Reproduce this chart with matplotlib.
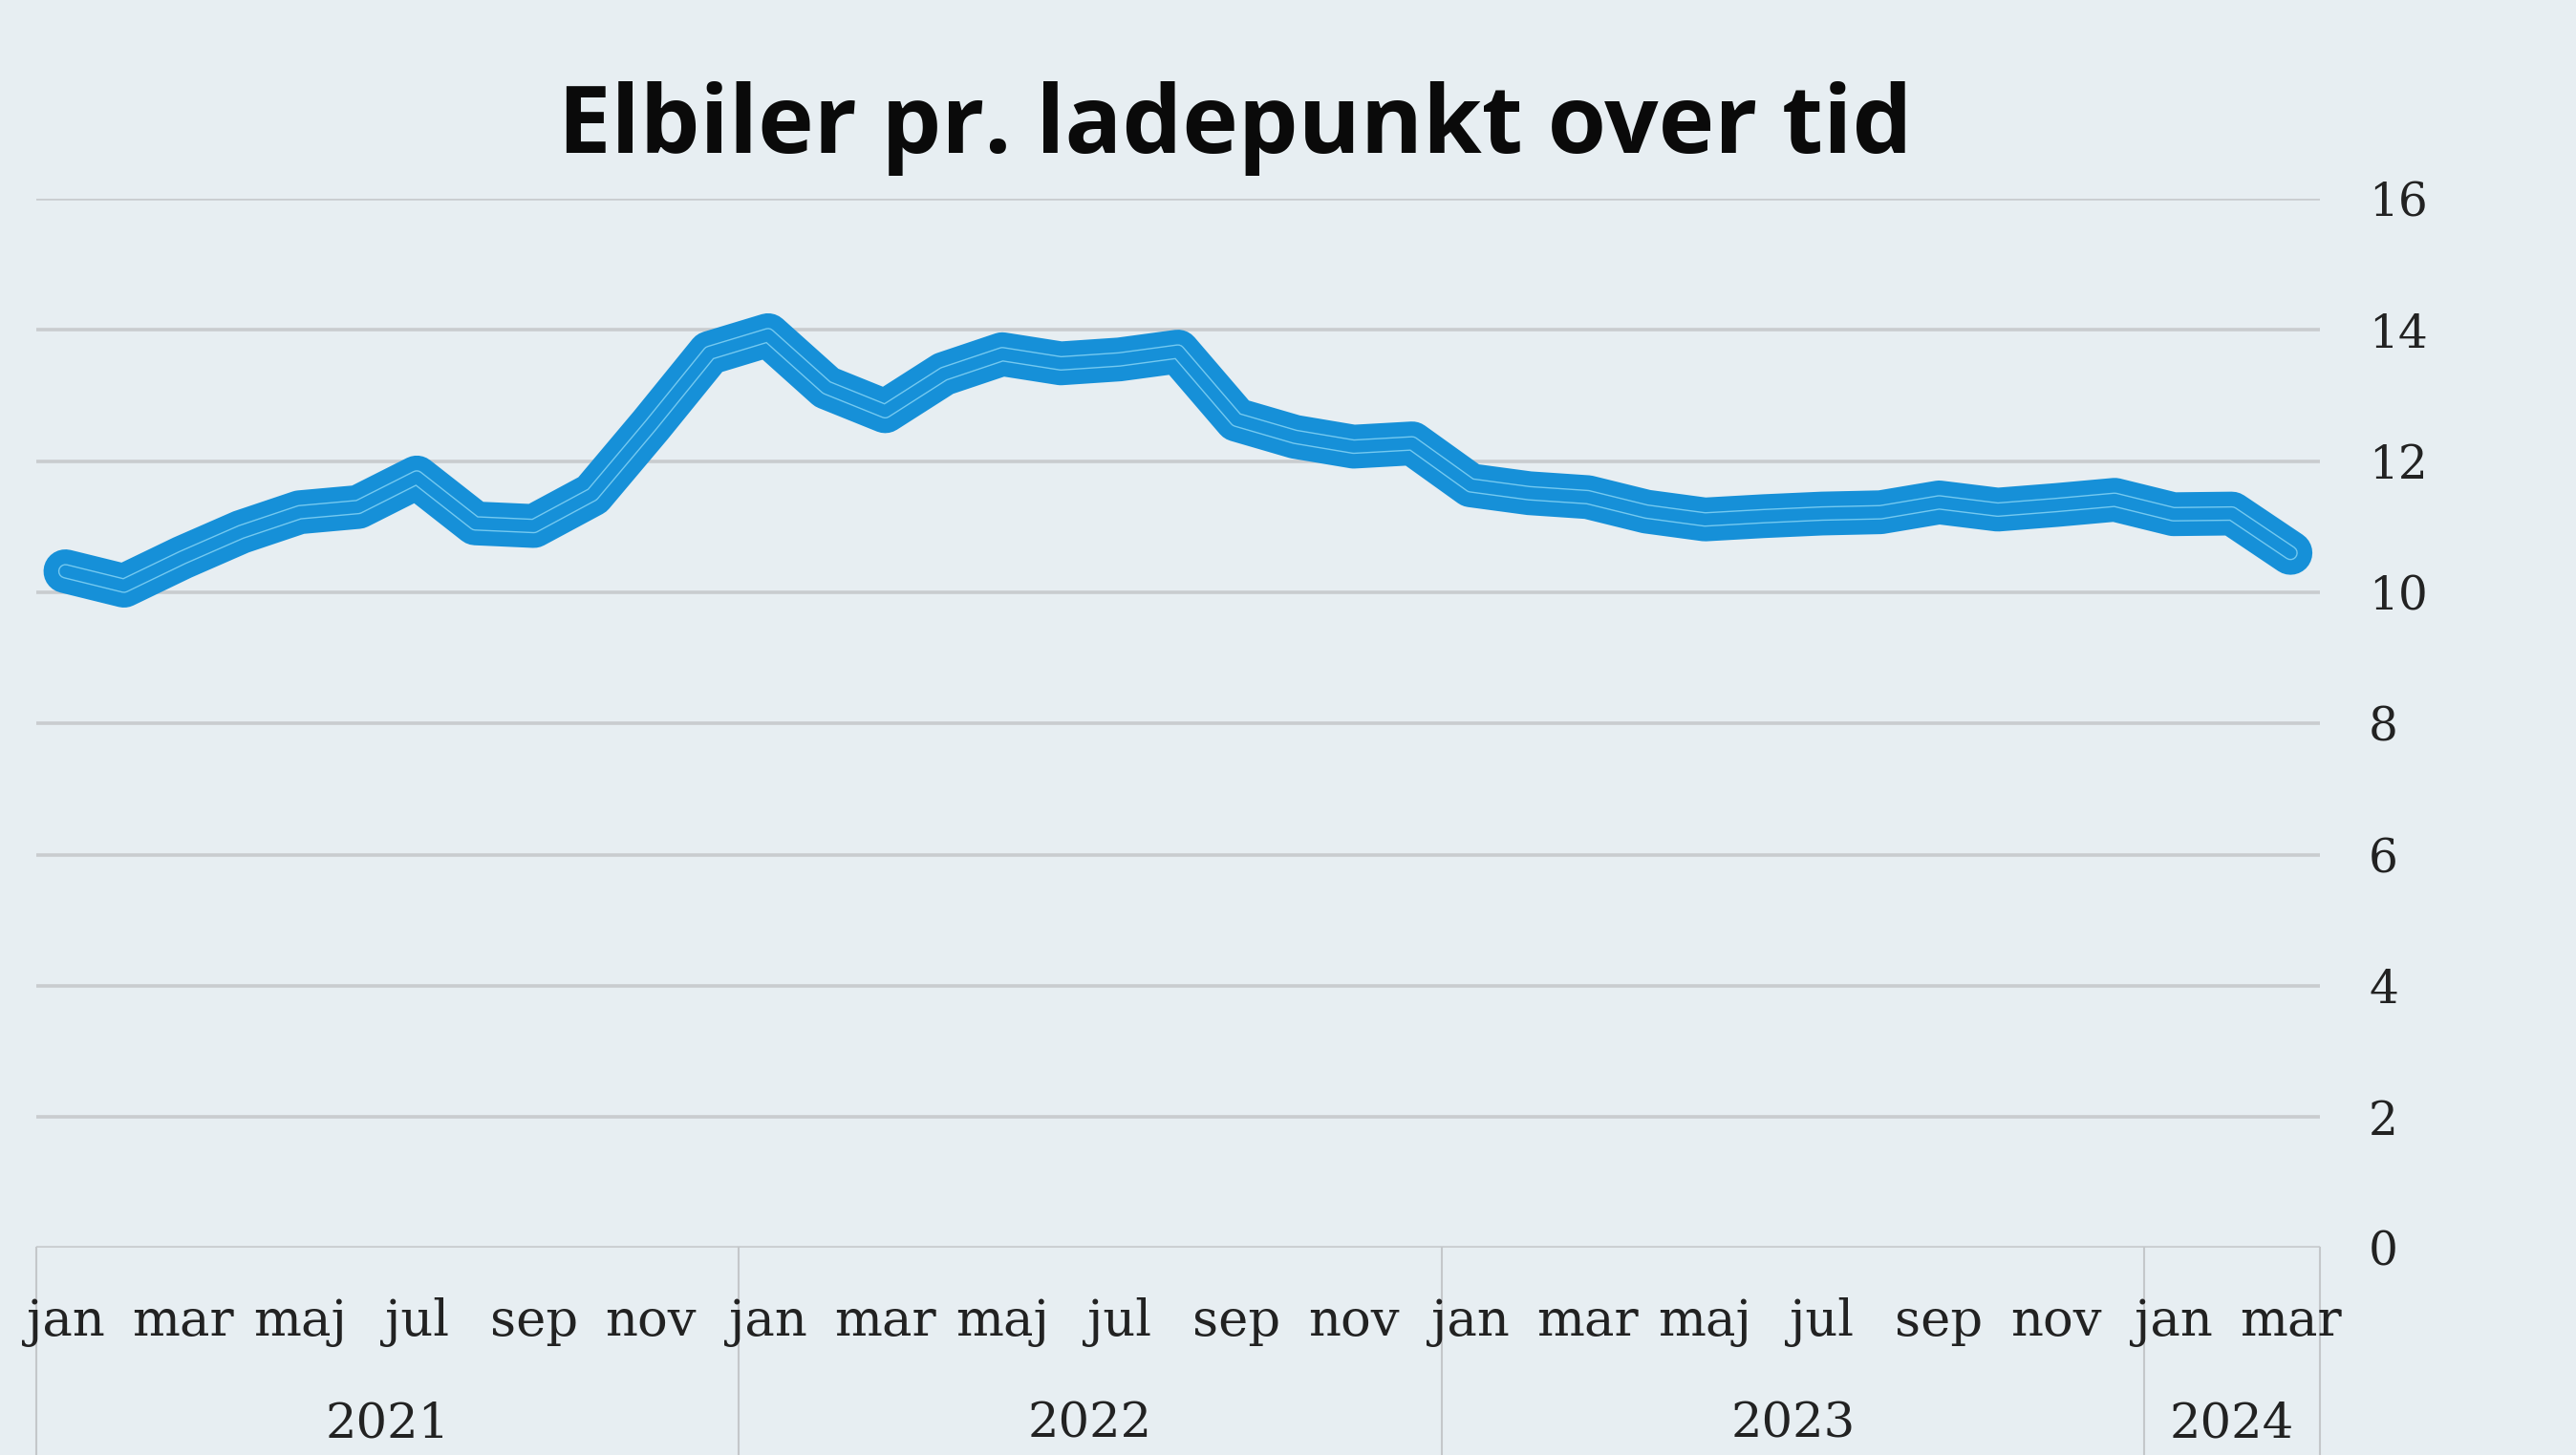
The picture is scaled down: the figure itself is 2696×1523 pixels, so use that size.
import matplotlib
matplotlib.use('Agg')
import matplotlib.pyplot as plt
import matplotlib.transforms as mtransforms

# Elbiler pr. ladepunkt, månedlig, jan 2021 - mar 2024
values_2021 = [10.32, 10.10, 10.53, 10.92, 11.22, 11.30, 11.75, 11.05, 11.01, 11.49, 12.55, 13.65]
values_2022 = [13.92, 13.12, 12.76, 13.33, 13.63, 13.49, 13.55, 13.67, 12.63, 12.37, 12.22, 12.27]
values_2023 = [11.63, 11.51, 11.45, 11.23, 11.11, 11.16, 11.20, 11.22, 11.37, 11.26, 11.33, 11.41]
values_2024 = [11.19, 11.20, 10.60]

months = ['jan', 'feb', 'mar', 'apr', 'maj', 'jun', 'jul', 'aug', 'sep', 'okt', 'nov', 'dec']
years = ['2021', '2022', '2023', '2024']
months_per_year = [12, 12, 12, 3]
y_ticks = [0, 2, 4, 6, 8, 10, 12, 14, 16]

values = values_2021 + values_2022 + values_2023 + values_2024
labels = [months[i % 12] for i in range(len(values))]
x = list(range(len(values)))

bg = '#e7eef2'
blue = '#1690d8'
light = '#74c9f0'
grid_col = '#c9cccf'
text_col = '#222222'
serif = 'DejaVu Serif'

fig = plt.figure(figsize=(26.96, 15.23), dpi=100, facecolor=bg)
ax = fig.add_axes([0.01403, 0.1422, 0.8865, 0.7212])
ax.set_facecolor(bg)

ax.set_xlim(-0.5, len(values) - 0.5)
ax.set_ylim(0, 16)

# gitterlinjer
for t in y_ticks:
    ax.axhline(t, color=grid_col, lw=2.6, zorder=1)

# linjen: tyk blå med lys indre kant
ax.plot(x, values, color=blue, lw=33, solid_joinstyle='round', solid_capstyle='round', zorder=3)
ax.plot(x, values, color=light, lw=11.0, solid_joinstyle='round', solid_capstyle='round', zorder=4)
ax.plot(x, values, color=blue, lw=9.0, solid_joinstyle='round', solid_capstyle='round', zorder=5)

for s in ax.spines.values():
    s.set_visible(False)

ax.yaxis.tick_right()
ax.set_yticks(y_ticks)
ax.set_yticklabels([str(t) for t in y_ticks], fontsize=35, color=text_col, family=serif)
ax.tick_params(axis='y', length=0, pad=37)
ax.set_xticks([])

trans = mtransforms.blended_transform_factory(ax.transData, ax.transAxes)

# månedsetiketter hver anden måned
for i in range(0, len(values), 2):
    ax.text(i, -0.083, labels[i], transform=trans, ha='center', va='baseline',
            fontsize=38, color=text_col, family=serif, clip_on=False)

# år og skillelinjer
start = 0
edges = [-0.5]
for yr, n in zip(years, months_per_year):
    mid = start - 0.5 + n / 2
    ax.text(mid, -0.18, yr, transform=trans, ha='center', va='baseline',
            fontsize=37, color=text_col, family=serif, clip_on=False)
    start += n
    edges.append(start - 0.5)

for e in edges:
    ax.plot([e, e], [0, -0.21], transform=trans, color='#c4c7ca', lw=1.5,
            clip_on=False, zorder=2)

fig.text(0.4796, 0.895, 'Elbiler pr. ladepunkt over tid', ha='center', va='baseline',
         fontsize=71.5, fontweight='bold', family='Open Sans', color='#0a0a0a')

fig.savefig('out.png', dpi=100, facecolor=bg)
